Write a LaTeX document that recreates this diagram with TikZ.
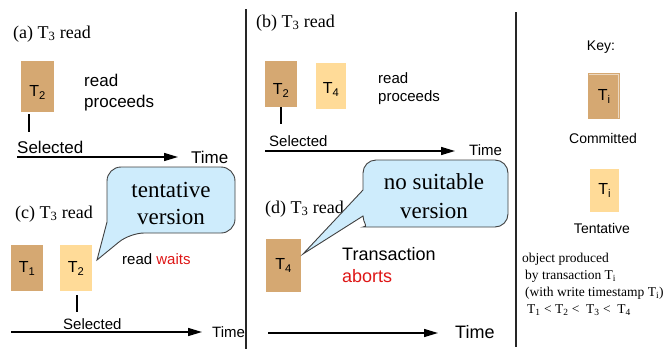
\documentclass[tikz,border=0pt]{standalone}
\usepackage{fontspec}
\setmainfont{Liberation Serif}
\setsansfont{Liberation Sans}
\usetikzlibrary{arrows.meta}
\definecolor{commc}{RGB}{213,168,114}
\definecolor{tentc}{RGB}{255,219,152}
\definecolor{bubc}{RGB}{206,236,252}
\definecolor{redc}{RGB}{222,22,22}
\begin{document}
\begin{tikzpicture}[x=1pt,y=-1pt,
  box/.style={anchor=north west, inner sep=0pt},
  commbox/.style={box, fill=commc},
  tentbox/.style={box, fill=tentc},
  boxlabel/.style={font=\sffamily\fontsize{16}{18}\selectfont, inner sep=0pt},
  sans/.style 2 args={inner sep=0pt, font=\sffamily\fontsize{#1}{#2}\selectfont},
  serif/.style 2 args={inner sep=0pt, font=\rmfamily\fontsize{#1}{#2}\selectfont},
  timearrow/.style={line width=1.5pt, -{Triangle[length=14pt,width=8pt]}},
  tick/.style={line width=1.5pt},
  sep/.style={line width=1.6pt, draw=black!85},
  callout/.style={draw=black!75, line width=0.9pt, fill=bubc},
  bubtext/.style 2 args={font=\rmfamily\fontsize{#1}{#2}\selectfont, align=center, inner sep=0pt}]

\useasboundingbox (0,0) rectangle (667,349);

% separators
\coordinate (s1t) at (246,9);
\coordinate (s1b) at (246,349);
\coordinate (s2t) at (516,12);
\coordinate (s2b) at (516,347);
\draw[sep] (s1t) -- (s1b);
\draw[sep] (s2t) -- (s2b);

% ---------- panel (a)
\node[serif={18}{20}, anchor=base west] (la) at (13,38) {(a) T\textsubscript{3} read};
\node[commbox, minimum width=33pt, minimum height=51pt,
      label={[boxlabel, yshift=-6pt]center:T\textsubscript{2}}] (a2) at (21,61) {};
\node[sans={17}{21}, anchor=base west, align=left] (aread) at (84,107) {read\\proceeds};
\coordinate (ta1) at (29,114);
\coordinate (ta2) at (29,132);
\draw[tick] (ta1) -- (ta2);
\node[sans={17}{20}, anchor=base west] (asel) at (17,153) {Selected};
\coordinate (aa0) at (17,157);
\coordinate (aa1) at (178,157);
\draw[timearrow] (aa0) -- (aa1);
\node[sans={17}{20}, anchor=base west] (atime) at (191,163) {Time};

% ---------- panel (b)
\node[serif={18}{20}, anchor=base west] (lb) at (256,27) {(b) T\textsubscript{3} read};
\node[commbox, minimum width=32pt, minimum height=46pt,
      label={[boxlabel, yshift=-6pt]center:T\textsubscript{2}}] (b2) at (265,61) {};
\node[tentbox, minimum width=30pt, minimum height=46pt,
      label={[boxlabel, yshift=-3pt]center:T\textsubscript{4}}] (b4) at (316,63) {};
\node[sans={15}{18}, anchor=base west, align=left] (bread) at (378,101) {read\\proceeds};
\coordinate (tb1) at (b2.south -| 281,0);
\coordinate (tb2) at (281,124);
\draw[tick] (tb1) -- (tb2);
\node[sans={15}{18}, anchor=base west] (bsel) at (269,146) {Selected};
\coordinate (ba0) at (265,151);
\coordinate (ba1) at (455,151);
\draw[timearrow] (ba0) -- (ba1);
\node[sans={15}{18}, anchor=base west] (btime) at (469,155) {Time};

% ---------- panel (c)
\node[serif={18}{20}, anchor=base west] (lc) at (15,218) {(c) T\textsubscript{3} read};
\node[commbox, minimum width=32pt, minimum height=46pt,
      label={[boxlabel]center:T\textsubscript{1}}] (c1) at (11,245) {};
\node[tentbox, minimum width=32pt, minimum height=46pt,
      label={[boxlabel]center:T\textsubscript{2}}] (c2) at (60,245) {};
\node[sans={15}{18}, anchor=base west] (cread) at (122,264) {read \textcolor{redc}{waits}};
\coordinate (tc1) at (77,295);
\coordinate (tc2) at (77,312);
\draw[tick] (tc1) -- (tc2);
\node[sans={15}{18}, anchor=base west] (csel) at (63,329) {Selected};
\coordinate (ca0) at (11,332);
\coordinate (ca1) at (202,332);
\draw[timearrow] (ca0) -- (ca1);
\node[sans={15}{18}, anchor=base west] (ctime) at (212,337) {Time};

% callout 1
\draw[callout] (97,260) -- (107,222) [rounded corners=14pt] -- (107,167) -- (235,167) -- (235,233) -- (130,233) [sharp corners] -- cycle;
\node[bubtext={23}{27}] (tv) at (171,203) {tentative\\version};

% ---------- panel (d)
\node[serif={18}{20}, anchor=base west] (ld) at (265,213) {(d) T\textsubscript{3} read};
\node[commbox, minimum width=35pt, minimum height=53pt,
      label={[boxlabel]center:T\textsubscript{4}}] (d4) at (266,239) {};
\node[sans={18}{22}, anchor=base west, align=left] (dtr) at (342,282) {Transaction\\\textcolor{redc}{aborts}};
\coordinate (da0) at (268,333);
\coordinate (da1) at (438,333);
\draw[timearrow] (da0) -- (da1);
\node[sans={18}{20}, anchor=base west] (dtime) at (455,338) {Time};

% callout 2
\draw[callout] (303,254) -- (363,190) [rounded corners=13pt] -- (363,160) -- (508,160) -- (508,227) -- (376,227) [sharp corners] .. controls (369,227) and (363,223) .. (363,216) -- cycle;
\node[bubtext={23}{29}] (nsv) at (434,196) {no suitable\\version};

% ---------- key
\node[sans={14}{16}, anchor=base] (key) at (601,50) {Key:};
\node[commbox, minimum width=32pt, minimum height=46pt,
      label={[boxlabel]center:T\textsubscript{i}}] (kc) at (588,73) {};
\draw[white!55!commc, line width=0.7pt] ([xshift=1pt,yshift=-1.5pt]kc.north west) -- ([xshift=-2pt,yshift=-1.5pt]kc.north east) -- ([xshift=-2pt,yshift=1pt]kc.south east);
\node[sans={14}{16}, anchor=base] (kcl) at (603,143) {Committed};
\node[tentbox, minimum width=29pt, minimum height=43pt,
      label={[boxlabel]center:T\textsubscript{i}}] (kt) at (590,169) {};
\node[sans={14}{16}, anchor=base] (ktl) at (602,233) {Tentative};
\node[serif={13.5}{17}, anchor=base west, align=left] (kdesc) at (522,313) {object produced\\\hspace*{3pt}by transaction T\textsubscript{i}\\\hspace*{3pt}(with write timestamp T\textsubscript{i})\\\hspace*{5pt}T\textsubscript{1} < T\textsubscript{2} <\ \ T\textsubscript{3} <\ \ T\textsubscript{4}};
\end{tikzpicture}
\end{document}
